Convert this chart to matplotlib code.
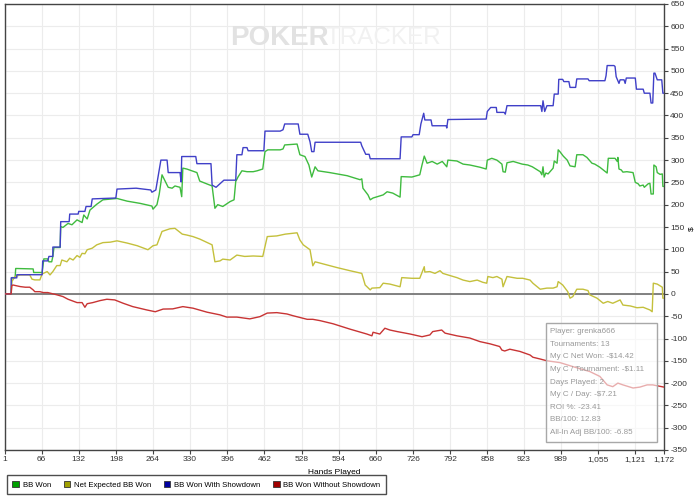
import matplotlib
matplotlib.use("Agg")
import matplotlib.pyplot as plt
from matplotlib.patches import Patch, Rectangle

# (hand, big blinds) breakpoints
bb_won = [(1, 0), (12, 0), (13, 36.5), (19, 36.5), (20, 57), (51, 56), (52, 48), (67, 48),
          (70, 78.5), (77, 78.5), (79, 72), (84, 72), (86, 84), (88, 104), (99, 104),
          (100, 151), (104, 149), (113, 158), (120, 155), (129, 166), (138, 160), (141, 177),
          (147, 168), (152, 188), (164, 201), (175, 211), (200, 214), (218, 208), (241, 203),
          (262, 197), (264, 190), (271, 200), (275, 223), (280, 267), (291, 239), (298, 237),
          (303, 242), (312, 239), (315, 218), (317, 282), (324, 280), (342, 272), (347, 253),
          (369, 242), (374, 192), (379, 200), (388, 196), (401, 207), (408, 211), (411, 252),
          (415, 262), (422, 276), (431, 274), (442, 274), (449, 276), (459, 280), (463, 319),
          (468, 323), (490, 323), (495, 325), (498, 334), (520, 336), (525, 312), (534, 308),
          (541, 289), (546, 262), (552, 285), (557, 276), (578, 272), (609, 265), (632, 256),
          (635, 258), (637, 237), (646, 222), (650, 211), (655, 215), (673, 222), (680, 229),
          (690, 226), (703, 217), (705, 263), (724, 262), (738, 267), (742, 289), (746, 309),
          (751, 293), (760, 297), (769, 291), (778, 297), (786, 285), (788, 300), (804, 298),
          (815, 291), (827, 289), (845, 284), (856, 280), (858, 300), (866, 304), (875, 300),
          (884, 291), (886, 274), (890, 273), (893, 294), (904, 297), (920, 291), (930, 289),
          (938, 285), (952, 274), (955, 267), (957, 285), (959, 262), (962, 271), (966, 269),
          (975, 282), (977, 298), (982, 293), (984, 323), (987, 319), (993, 309), (1000, 300),
          (1005, 287), (1014, 285), (1017, 312), (1028, 312), (1035, 306), (1044, 293),
          (1049, 291), (1058, 284), (1064, 278), (1071, 271), (1073, 304), (1085, 304),
          (1089, 297), (1090, 306), (1092, 280), (1096, 278), (1099, 273), (1106, 274),
          (1117, 272), (1121, 250), (1126, 247), (1129, 242), (1135, 244), (1137, 239),
          (1144, 247), (1147, 248), (1149, 224), (1153, 224), (1154, 289), (1158, 285),
          (1160, 272), (1165, 268), (1169, 269), (1170, 241), (1172, 241)]

net_expected = [(1, 0), (12, 0), (13, 27.6), (19, 38.8), (28, 42.6), (45, 42.6), (49, 33),
                (54, 31.4), (63, 31.4), (67, 44.8), (76, 50), (81, 42.6), (86, 50), (93, 63.5),
                (99, 63.5), (102, 76), (111, 72), (116, 80), (122, 76), (129, 86), (134, 82),
                (138, 91), (143, 90), (147, 99), (156, 102.5), (164, 110), (175, 115),
                (188, 116), (200, 119), (218, 114), (236, 108), (255, 99), (264, 108),
                (271, 110), (280, 140), (294, 146), (303, 147), (316, 134), (324, 132),
                (335, 128.5), (347, 123), (369, 110), (374, 72), (383, 74), (388, 78), (401, 76),
                (413, 87), (427, 84), (442, 85), (459, 84), (467, 128.5), (484, 130), (499, 134),
                (513, 136), (520, 137), (525, 121), (531, 110), (543, 99), (548, 63), (552, 72),
                (573, 65), (591, 59), (614, 52), (635, 46), (641, 20), (650, 9), (653, 13),
                (667, 14), (673, 24), (685, 22), (703, 16), (706, 36.5), (724, 35), (738, 35),
                (742, 48), (746, 61), (747, 49), (756, 50), (765, 46), (774, 52), (779, 46),
                (792, 41), (804, 36.5), (815, 31), (827, 27.6), (840, 31), (850, 26), (857, 24),
                (859, 39), (868, 36.5), (875, 39), (884, 33), (886, 16), (893, 39), (911, 35),
                (921, 35), (934, 31), (939, 24), (952, 10.5), (964, 13), (975, 13), (982, 16),
                (984, 27.6), (992, 20), (1001, 5), (1005, -9.6), (1010, -6), (1017, 10.5),
                (1028, 10.5), (1037, 7.4), (1040, -2), (1053, -9.6), (1064, -21), (1072, -17),
                (1081, -21), (1094, -13.5), (1099, -25), (1112, -27), (1124, -31), (1135, -30),
                (1147, -36), (1151, -40), (1153, 24), (1160, 22), (1169, 15), (1170, -9.6),
                (1172, -9.6)]

won_showdown = [(1, 0), (12, 0), (12, 36), (22, 36), (22, 43), (67, 43), (68, 74), (77, 74),
                (79, 84), (86, 84), (86, 105), (99, 105), (100, 162), (115, 162), (116, 179),
                (131, 179), (132, 185), (143, 185), (145, 196), (154, 196), (156, 213),
                (198, 215), (200, 235), (234, 237), (260, 233), (262, 228), (269, 233),
                (278, 300), (289, 300), (291, 272), (312, 272), (314, 251), (315, 308),
                (340, 308), (342, 292), (367, 292), (369, 244), (376, 239), (390, 255),
                (411, 255), (413, 312), (422, 312), (424, 328), (431, 328), (433, 321),
                (461, 321), (463, 365), (490, 365), (495, 368), (498, 381), (522, 381),
                (525, 358), (539, 358), (543, 341), (546, 319), (550, 319), (552, 340),
                (633, 340), (635, 332), (642, 313), (648, 313), (650, 303), (703, 303),
                (705, 352), (724, 352), (726, 357), (737, 357), (740, 381), (745, 405),
                (747, 390), (758, 390), (760, 377), (785, 377), (786, 372), (788, 391),
                (856, 392), (858, 409), (864, 418), (874, 418), (875, 407), (888, 407),
                (890, 403), (893, 422), (953, 422), (955, 409), (957, 433), (960, 409),
                (964, 422), (975, 422), (977, 448), (984, 448), (985, 481), (992, 481),
                (994, 476), (1003, 476), (1005, 463), (1015, 463), (1017, 482), (1037, 482),
                (1039, 478), (1067, 478), (1069, 489), (1071, 512), (1083, 512), (1085, 510),
                (1087, 487), (1092, 472), (1094, 480), (1101, 480), (1103, 472), (1105, 484),
                (1121, 484), (1123, 459), (1135, 459), (1137, 450), (1147, 450), (1149, 428),
                (1152, 428), (1154, 495), (1156, 495), (1160, 480), (1168, 480), (1170, 450),
                (1172, 450)]

won_no_showdown = [(1, 0), (12, 0), (13, 18), (15, 20), (28, 16.4), (37, 15), (45, 15),
                   (51, 9), (54, 5), (63, 5), (69, 3), (77, 3), (93, -2), (104, -6),
                   (113, -12), (129, -19.5), (138, -19.5), (143, -30), (147, -22),
                   (157, -19.5), (170, -15), (182, -12), (196, -13.5), (211, -21), (228, -28.5),
                   (253, -36), (268, -40), (282, -34), (299, -33.6), (317, -28.5), (335, -32),
                   (360, -41), (383, -47), (395, -52), (413, -52), (436, -56), (454, -51),
                   (467, -43), (484, -42), (502, -45), (513, -49), (538, -57), (548, -57),
                   (561, -60), (584, -67), (614, -79), (644, -90), (653, -94), (655, -86),
                   (667, -90), (676, -77), (685, -81), (698, -84.5), (721, -90), (742, -96),
                   (756, -92), (761, -84.5), (777, -81), (783, -88), (804, -94), (827, -99),
                   (845, -107), (863, -112), (880, -118), (884, -126), (889, -128), (898, -124),
                   (916, -129), (934, -137), (939, -142), (952, -146), (964, -150), (987, -154),
                   (1010, -163), (1040, -174), (1058, -185), (1071, -204), (1081, -208),
                   (1090, -200), (1099, -204), (1117, -211), (1129, -209), (1142, -204),
                   (1152, -204), (1172, -209)]

series_names = ["BB Won", "Net Expected BB Won", "BB Won With Showdown", "BB Won Without Showdown"]
x_ticks = [1, 66, 132, 198, 264, 330, 396, 462, 528, 594, 660, 726, 792, 858, 923, 989, 1055, 1121, 1172]
y_ticks = list(range(-350, 651, 50))

stats_lines = ["Player: grenka666", "Tournaments: 13", "My C Net Won: -$14.42",
               "My C / Tournament: -$1.11", "Days Played: 2", "My C / Day: -$7.21",
               "ROI %: -23.41", "BB/100: 12.83", "All-In Adj BB/100: -6.85"]

line_colors = ["#3fbb3f", "#c4c03c", "#4040c8", "#c83434"]
legend_colors = ["#00a000", "#a0a000", "#0000a0", "#a00000"]

plt.rcParams["font.family"] = ["Liberation Sans", "DejaVu Sans"]
plt.rcParams["axes.unicode_minus"] = False

fig = plt.figure(figsize=(7, 5.01), dpi=100)
ax = fig.add_axes([5 / 700, 1 - 450 / 501, 659 / 700, 446 / 501])

# watermark
fig.text(230 / 700, 1 - 38 / 501, "POKER", color="#e2e2e2", fontsize=20,
         fontweight="bold", va="center", ha="left", zorder=0)
fig.text(326 / 700, 1 - 38 / 501, "TRACKER", color="#f1f1f1", fontsize=17.5,
         va="center", ha="left", zorder=0)
ax.patch.set_alpha(0)

ax.axhline(0, color="#777777", lw=1.3, zorder=2)
for pts, col in zip([bb_won, net_expected, won_showdown, won_no_showdown], line_colors):
    xs, ys = zip(*pts)
    ax.plot(xs, ys, color=col, lw=1.0, zorder=3)

ax.set_xlim(1, 1172)
ax.set_ylim(-350, 650)
ax.set_xticks(x_ticks)
ax.set_xticklabels([f"{t:,}" for t in x_ticks])
ax.set_yticks(y_ticks)
ax.yaxis.tick_right()
ax.tick_params(axis="both", labelsize=6, length=3, width=0.8, color="#444444",
               labelcolor="#333333", pad=1.5)
ax.grid(True, color="#ececec", lw=0.8, zorder=0)
ax.set_axisbelow(True)
for s in ax.spines.values():
    s.set_color("#444444")
    s.set_linewidth(1.0)

ax.set_xlabel("Hands Played", fontsize=6, labelpad=4)
fig.text(692 / 700, 1 - 229 / 501, "$", fontsize=6, rotation=90, ha="center", va="center")

# stats box
box = Rectangle((546 / 700, 1 - 442 / 501), 111 / 700, 119 / 501, transform=fig.transFigure,
                facecolor="white", alpha=0.6, edgecolor="none", zorder=5)
fig.patches.append(box)
fig.patches.append(Rectangle((546 / 700, 1 - 442 / 501), 111 / 700, 119 / 501,
                             transform=fig.transFigure, facecolor="none",
                             edgecolor="#a8a8a8", lw=1.0, zorder=6))
for i, line in enumerate(stats_lines):
    fig.text(550 / 700, 1 - (331.7 + 12.6 * i) / 501, line, fontsize=5.8, color="#999999",
             ha="left", va="center", zorder=7)

handles = [Patch(facecolor=c, edgecolor="#333333", lw=0.6) for c in legend_colors]
leg = fig.legend(handles, series_names, loc="lower left", bbox_to_anchor=(3 / 700, 3 / 501),
                 ncol=4, fontsize=5.6, frameon=True, fancybox=False, edgecolor="#222222",
                 handlelength=0.85, handleheight=0.85, handletextpad=0.5, columnspacing=1.6,
                 borderpad=0.7)
leg.get_frame().set_linewidth(1.0)

fig.savefig("out.png", dpi=100)
